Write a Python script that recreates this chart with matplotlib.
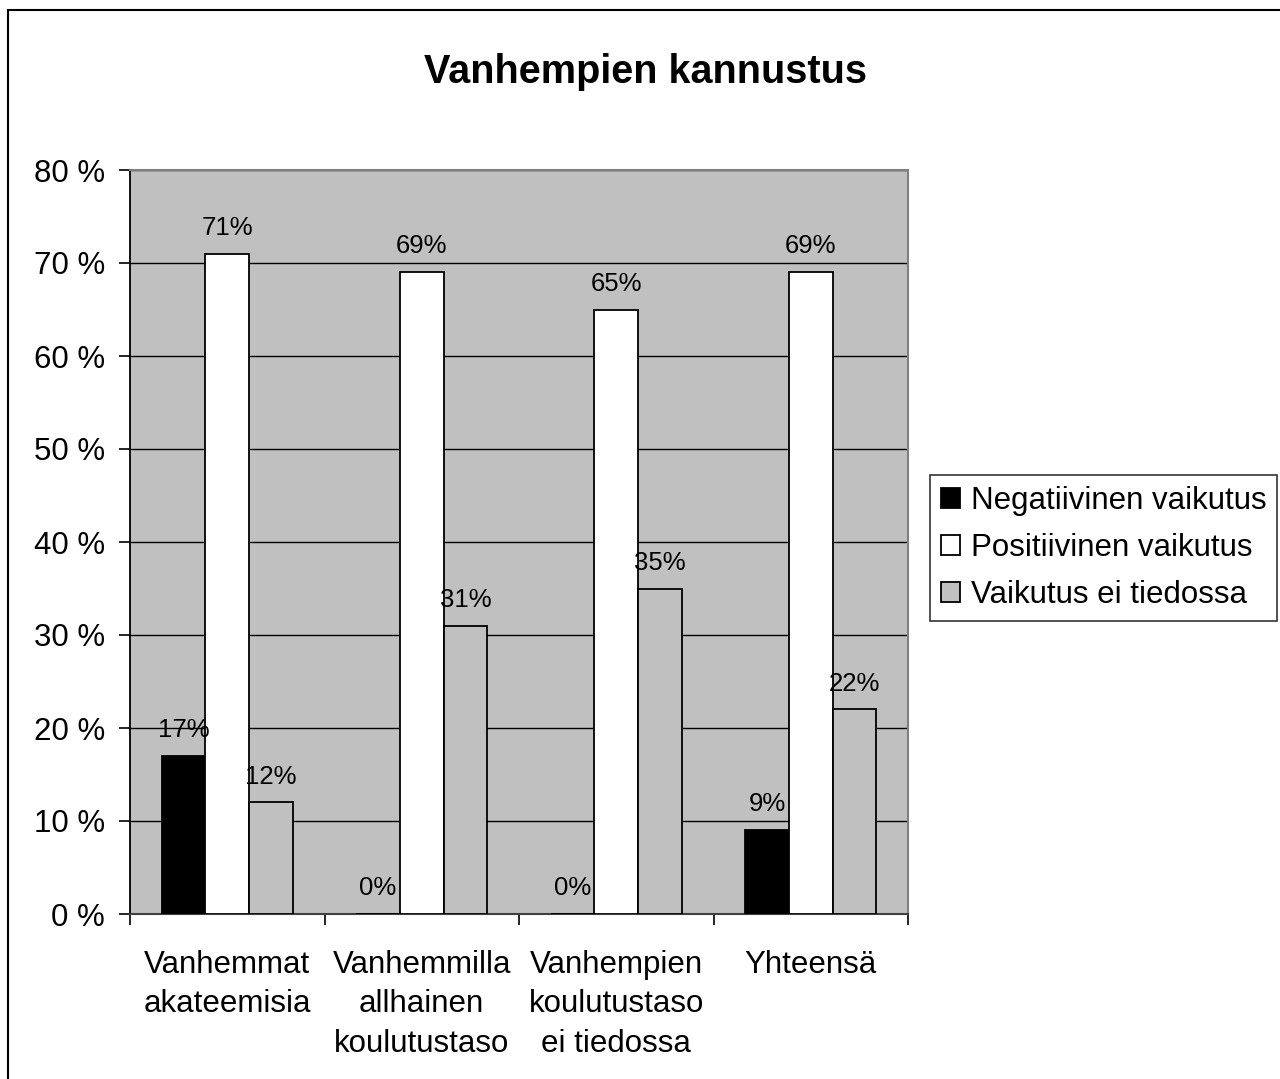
import matplotlib
matplotlib.use("Agg")
import matplotlib.pyplot as plt
from matplotlib.patches import Rectangle
import numpy as np

plt.rcParams['font.family'] = ['Liberation Sans', 'DejaVu Sans']

title = "Vanhempien kannustus"
categories = ["Vanhemmat\nakateemisia", "Vanhemmilla\nallhainen\nkoulutustaso",
              "Vanhempien\nkoulutustaso\nei tiedossa", "Yhteensä"]
series_names = ["Negatiivinen vaikutus", "Positiivinen vaikutus", "Vaikutus ei tiedossa"]
negatiivinen = [17, 0, 0, 9]
positiivinen = [71, 69, 65, 69]
ei_tiedossa = [12, 31, 35, 22]
y_ticks = [0, 10, 20, 30, 40, 50, 60, 70, 80]
y_tick_labels = ["0 %", "10 %", "20 %", "30 %", "40 %", "50 %", "60 %", "70 %", "80 %"]

series = [negatiivinen, positiivinen, ei_tiedossa]
colors = ["#000000", "#FFFFFF", "#C0C0C0"]

W, H = 1280, 1079
fig = plt.figure(figsize=(W / 100, H / 100), dpi=100)
fig.patch.set_facecolor("white")

# figure border (starts slightly inside, runs past right/bottom)
fig.add_artist(Rectangle((8 / W, -0.01), 1.02, 1 - 10 / H + 0.01, transform=fig.transFigure,
                         fill=False, edgecolor="black", linewidth=1.5))

ax = fig.add_axes([130 / W, 1 - 914 / H, (908 - 130) / W, (914 - 170) / H])
ax.set_facecolor("#C0C0C0")

x = np.arange(len(categories))
bw = 0.225
offsets = [-bw, 0, bw]
for vals, off, col, name in zip(series, offsets, colors, series_names):
    bars = ax.bar(x + off, vals, width=bw, color=col, edgecolor="black", linewidth=1.3,
                  label=name, zorder=3)
    for b, v in zip(bars, vals):
        ax.annotate(f"{v}%", (b.get_x() + b.get_width() / 2, v), xytext=(0, 10),
                    textcoords="offset points", ha="center", va="bottom", fontsize=18.5,
                    zorder=4)

ax.set_ylim(0, 80)
ax.set_xlim(-0.5, len(categories) - 0.5)
ax.set_yticks(y_ticks)
ax.set_yticklabels(y_tick_labels, fontsize=22.5)
ax.yaxis.grid(True, color="black", linewidth=1, zorder=1)
ax.set_axisbelow(True)

ax.set_xticks(np.arange(len(categories) + 1) - 0.5)
ax.set_xticklabels([])
ax.set_xticks(x, minor=True)
ax.set_xticklabels(categories, minor=True, fontsize=22.5, linespacing=1.4)
ax.tick_params(axis="x", which="minor", length=0, pad=26)
ax.tick_params(axis="x", which="major", length=8, width=1.2, direction="out")
ax.tick_params(axis="y", length=8, width=1.2, direction="out", pad=10)

for s in ["top", "right"]:
    ax.spines[s].set_color("#808080")
    ax.spines[s].set_linewidth(1.5)
ax.spines["left"].set_color("black")
ax.spines["left"].set_linewidth(1.3)
ax.spines["bottom"].set_color("#404040")
ax.spines["bottom"].set_linewidth(1.5)

fig.text(0.5 + 5 / W, 1 - 72 / H, title, ha="center", va="center",
         fontsize=28.5, fontweight="bold")

leg = fig.legend(loc="upper left", bbox_to_anchor=(930 / W, 1 - 475 / H), fontsize=22.5,
                 frameon=True, fancybox=False, edgecolor="black", handlelength=0.6,
                 handleheight=0.6, handletextpad=0.35, borderpad=0.35, labelspacing=0.55,
                 borderaxespad=0)
leg.get_frame().set_linewidth(1.2)

fig.savefig("out.png", dpi=100)
